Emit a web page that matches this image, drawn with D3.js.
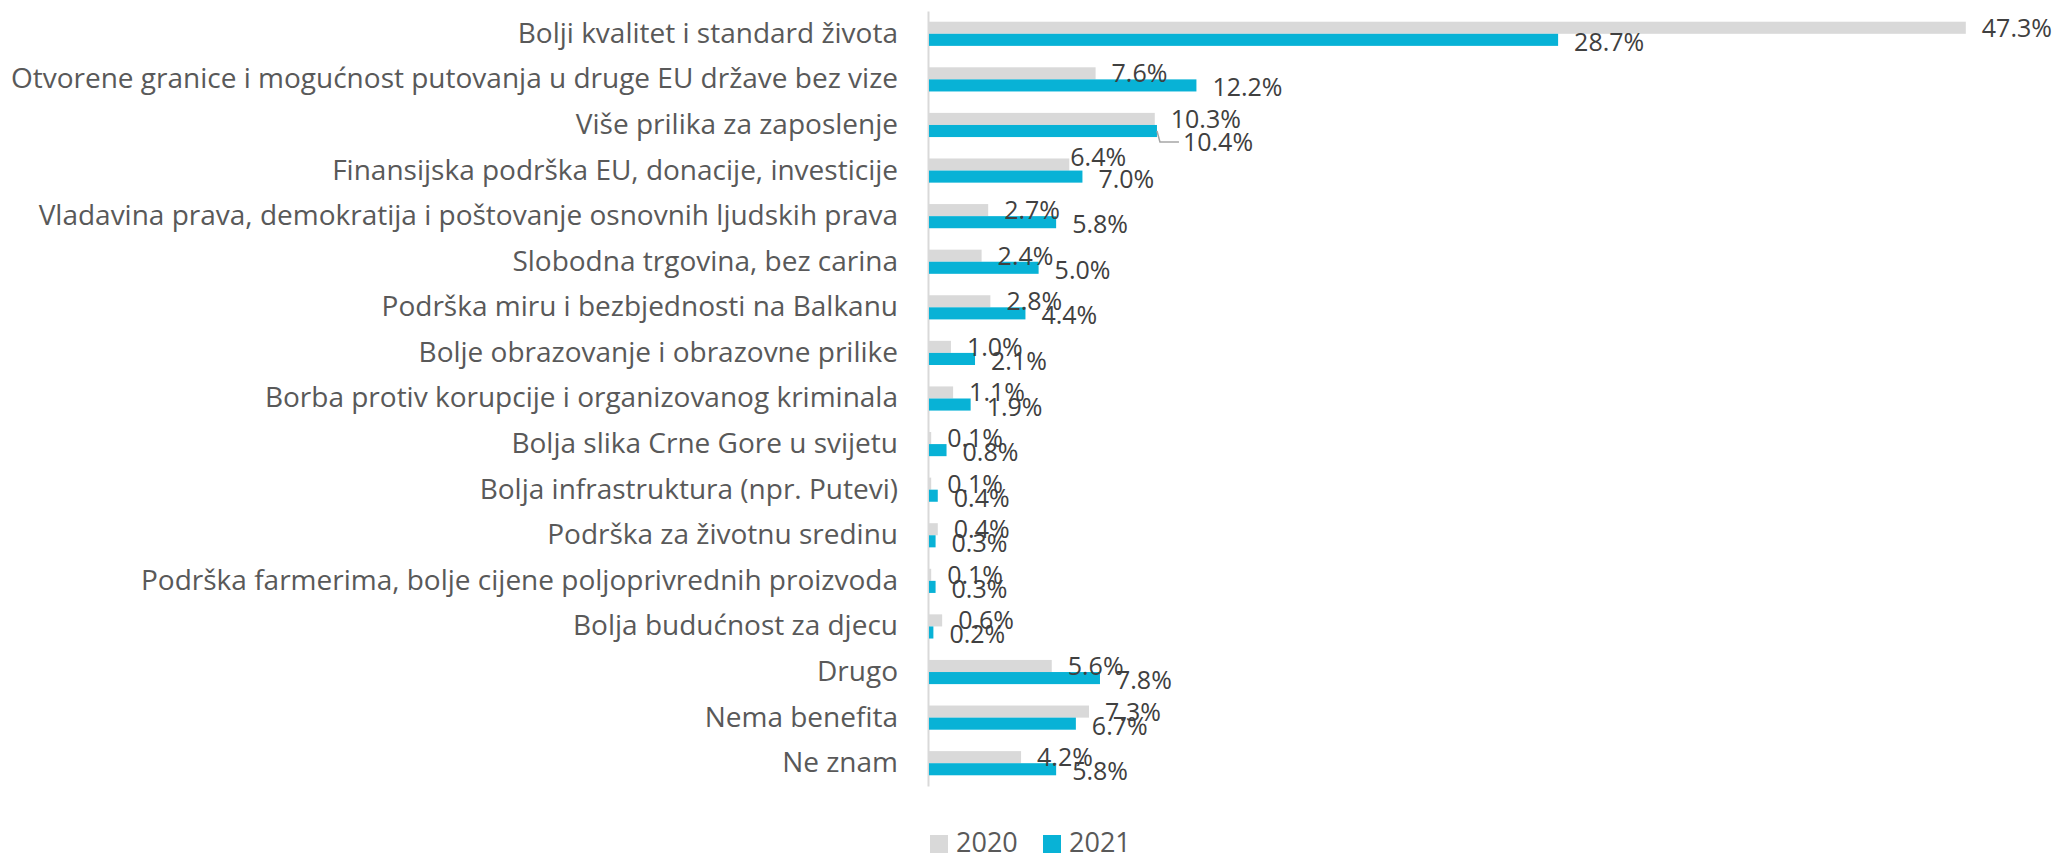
<!DOCTYPE html>
<html>
<head>
<meta charset="utf-8">
<script src="https://cdn.jsdelivr.net/npm/d3@7"></script>
<style>
  html, body { margin: 0; padding: 0; background: #fff; }
  svg { display: block; font-family: "Open Sans", sans-serif; }
</style>
</head>
<body>
<svg id="chart" width="2052" height="855"></svg>
<script>
// ---- dados
const categories = [
    'Bolji kvalitet i standard života',
    'Otvorene granice i mogućnost putovanja u druge EU države bez vize',
    'Više prilika za zaposlenje',
    'Finansijska podrška EU, donacije, investicije',
    'Vladavina prava, demokratija i poštovanje osnovnih ljudskih prava',
    'Slobodna trgovina, bez carina',
    'Podrška miru i bezbjednosti na Balkanu',
    'Bolje obrazovanje i obrazovne prilike',
    'Borba protiv korupcije i organizovanog kriminala',
    'Bolja slika Crne Gore u svijetu',
    'Bolja infrastruktura (npr. Putevi)',
    'Podrška za životnu sredinu',
    'Podrška farmerima, bolje cijene poljoprivrednih proizvoda',
    'Bolja budućnost za djecu',
    'Drugo',
    'Nema benefita',
    'Ne znam'
];
const values2020 = [47.3, 7.6, 10.3, 6.4, 2.7, 2.4, 2.8, 1.0, 1.1, 0.1, 0.1, 0.4, 0.1, 0.6, 5.6, 7.3, 4.2];
const values2021 = [28.7, 12.2, 10.4, 7.0, 5.8, 5.0, 4.4, 2.1, 1.9, 0.8, 0.4, 0.3, 0.3, 0.2, 7.8, 6.7, 5.8];
const seriesNames = ['2020', '2021'];
const seriesColors = ['#d9d9d9', '#08b2d6'];

const rows = categories.map((c, i) => ({ cat: c, v: [values2020[i], values2021[i]] }));

const margens = { left: 928, top: 11, bottom: 69 };
const svg = d3.select('#chart');
const svgHeight = +svg.attr('height');

// ---- escalas
const x = d3.scaleLinear().domain([0, 50]).range([0, 1096]);
const y = d3.scaleBand().domain(categories)
    .range([margens.top, svgHeight - margens.bottom])
    .paddingInner(0.47).paddingOuter(0.235);
const ySub = d3.scaleBand().domain(seriesNames).range([0, y.bandwidth()]);

const g = svg.append('g').attr('transform', `translate(${margens.left}, 0)`);

// ---- eixo das categorias
const axisY = g.append('g').call(d3.axisLeft(y).tickSize(0).tickPadding(30));
axisY.select('.domain').attr('stroke', '#d9d9d9').attr('stroke-width', 2);
axisY.selectAll('text')
    .attr('fill', '#595959')
    .style('font-size', '28px')
    .style('font-family', '"Open Sans", sans-serif');

// ---- barras
const groups = g.selectAll('g.row').data(rows).join('g')
    .attr('class', 'row')
    .attr('transform', d => `translate(0, ${y(d.cat)})`);

groups.selectAll('rect')
    .data(d => d.v.map((v, k) => ({ v, k })))
    .join('rect')
    .attr('x', 1)
    .attr('y', d => ySub(seriesNames[d.k]))
    .attr('width', d => x(d.v))
    .attr('height', ySub.bandwidth())
    .attr('fill', d => seriesColors[d.k]);

// ---- rótulos (alguns deslocados à mão no original, um com linha guia)
const moved = [
    { cat: 'Više prilika za zaposlenje', k: 1, dx: 10, dy: 9, leader: true },
    { cat: 'Finansijska podrška EU, donacije, investicije', k: 0, dx: -15, dy: -8, leader: false }
];

groups.each(function (row) {
    row.v.forEach((v, k) => {
        const m = moved.find(o => o.cat === row.cat && o.k === k);
        const bx = x(v) + 1;
        const by = ySub(seriesNames[k]) + ySub.bandwidth() / 2 + (k === 1 ? 2 : 0);
        const lx = bx + 16 + (m ? m.dx : 0);
        const ly = by + (m ? m.dy : 0);
        if (m && m.leader) {
            d3.select(this).append('path')
                .attr('d', `M${bx},${by - 2} L${bx + 3},${ly} L${lx - 4},${ly}`)
                .attr('fill', 'none')
                .attr('stroke', '#a6a6a6')
                .attr('stroke-width', 1.5);
        }
        d3.select(this).append('text')
            .attr('x', lx)
            .attr('y', ly)
            .attr('dy', '0.36em')
            .attr('fill', '#404040')
            .style('font-size', '25px')
            .text(v.toFixed(1) + '%');
    });
});

// ---- legenda
const legend = svg.append('g').attr('transform', 'translate(930, 835)');
const items = legend.selectAll('g').data(seriesNames).join('g')
    .attr('transform', (d, i) => `translate(${i * 113}, 0)`);
items.append('rect').attr('width', 18).attr('height', 18)
    .attr('fill', (d, i) => seriesColors[i]);
items.append('text')
    .attr('x', 26).attr('y', 17)
    .attr('fill', '#595959')
    .style('font-size', '27px')
    .text(d => d);
</script>
</body>
</html>
